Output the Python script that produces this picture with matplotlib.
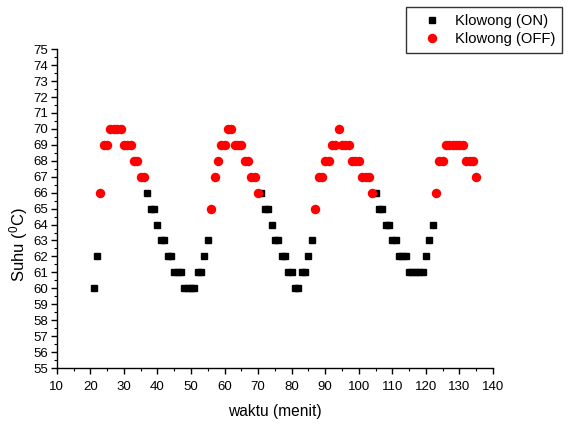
import matplotlib
matplotlib.use("Agg")
import matplotlib.pyplot as plt
from matplotlib.ticker import MultipleLocator

plt.rcParams['font.family'] = ['Liberation Sans', 'DejaVu Sans']
plt.rcParams['mathtext.fontset'] = 'custom'
plt.rcParams['mathtext.rm'] = 'Liberation Sans'

# suhu saat pemanas menyala (ON)
waktu_on = [21, 22,
            37, 38, 39, 40, 41, 42, 43, 44, 45, 46, 47, 48, 49, 50, 51, 52, 53, 54, 55,
            71, 72, 73, 74, 75, 76, 77, 78, 79, 80, 81, 82, 83, 84, 85, 86,
            105, 106, 107, 108, 109, 110, 111, 112, 113, 114, 115, 116, 117, 118, 119, 120, 121, 122]
suhu_on = [60, 62,
           66, 65, 65, 64, 63, 63, 62, 62, 61, 61, 61, 60, 60, 60, 60, 61, 61, 62, 63,
           66, 65, 65, 64, 63, 63, 62, 62, 61, 61, 60, 60, 61, 61, 62, 63,
           66, 65, 65, 64, 64, 63, 63, 62, 62, 62, 61, 61, 61, 61, 61, 62, 63, 64]

# suhu saat pemanas mati (OFF)
waktu_off = [23, 24, 25, 26, 27, 28, 29, 30, 31, 32, 33, 34, 35, 36,
             56, 57, 58, 59, 60, 61, 62, 63, 64, 65, 66, 67, 68, 69, 70,
             87, 88, 89, 90, 91, 92, 93, 94, 95, 96, 97, 98, 99, 100, 101, 102, 103, 104,
             123, 124, 125, 126, 127, 128, 129, 130, 131, 132, 133, 134, 135]
suhu_off = [66, 69, 69, 70, 70, 70, 70, 69, 69, 69, 68, 68, 67, 67,
            65, 67, 68, 69, 69, 70, 70, 69, 69, 69, 68, 68, 67, 67, 66,
            65, 67, 67, 68, 68, 69, 69, 70, 69, 69, 69, 68, 68, 68, 67, 67, 67, 66,
            66, 68, 68, 69, 69, 69, 69, 69, 69, 68, 68, 68, 67]

fig = plt.figure(figsize=(5.68, 4.24), dpi=100)
ax = fig.add_axes([0.100, 0.132, 0.768, 0.752])

ax.plot(waktu_on, suhu_on, 's', color='black', markersize=5.0, label='Klowong (ON)')
ax.plot(waktu_off, suhu_off, 'o', color='red', markersize=5.8, label='Klowong (OFF)')

ax.set_xlim(10, 140)
ax.set_ylim(55, 75)
ax.xaxis.set_major_locator(MultipleLocator(10))
ax.xaxis.set_minor_locator(MultipleLocator(5))
ax.yaxis.set_major_locator(MultipleLocator(1))
ax.yaxis.set_minor_locator(MultipleLocator(0.5))

for s in ['top', 'right']:
    ax.spines[s].set_visible(False)
for s in ['left', 'bottom']:
    ax.spines[s].set_linewidth(1.0)

ax.tick_params(which='major', direction='out', length=4, width=1.0, labelsize=9.5)
ax.tick_params(which='minor', direction='out', length=2, width=0.8)
ax.tick_params(axis='y', pad=2)
ax.tick_params(axis='x', pad=5)

ax.set_xlabel('waktu (menit)', fontsize=11.2, labelpad=8)
# label sumbu y sedikit di bawah tengah sumbu
fig.text(0.032, 0.422, r'Suhu ($\mathregular{^0}$C)', fontsize=12,
         rotation=90, ha='center', va='center')

leg = fig.legend(loc='upper left', bbox_to_anchor=(0.714, 0.983), borderaxespad=0,
                 fontsize=10.6, frameon=True, fancybox=False, shadow=False,
                 edgecolor='black', borderpad=0.45, handletextpad=0.2,
                 labelspacing=0.3, handlelength=2.7)
leg.get_frame().set_linewidth(1.0)

fig.savefig('out.png', dpi=100)
